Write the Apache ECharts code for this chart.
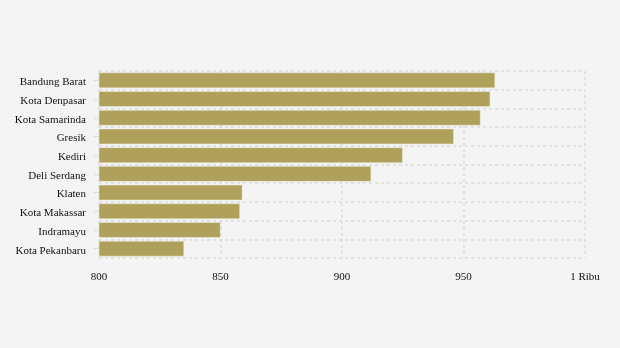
<!DOCTYPE html>
<html><head><meta charset="utf-8">
<script src="https://cdn.jsdelivr.net/npm/echarts@6/dist/echarts.min.js"></script>
<style>html,body{margin:0;padding:0;background:#f4f4f4;}#c{width:620px;height:348px;}</style>
</head><body><div id="c"></div>
<script>
const categories = ["Bandung Barat","Kota Denpasar","Kota Samarinda","Gresik","Kediri","Deli Serdang","Klaten","Kota Makassar","Indramayu","Kota Pekanbaru"];
const values = [963, 961, 957, 946, 925, 912, 859, 858, 850, 835];
const xTicks = {800:"800",850:"850",900:"900",950:"950",1000:"1 Ribu"};

const chart = echarts.init(document.getElementById('c'), null, {renderer:'canvas'});
chart.setOption({
  backgroundColor:'#f4f4f4',
  animation:false,
  grid:{left:99,right:35,top:71,bottom:90},
  xAxis:{
    type:'value', min:800, max:1000, interval:50,
    axisLine:{show:false}, axisTick:{show:false},
    axisLabel:{margin:14,color:'#111',fontFamily:'Liberation Serif',fontSize:11,
      formatter:v=>xTicks[v]!==undefined?xTicks[v]:String(v)},
    splitLine:{show:true,lineStyle:{color:'#dcdcdc',type:[3,3],width:1.5}}
  },
  yAxis:{
    type:'category', data:categories, inverse:true,
    axisLine:{show:false},
    axisTick:{show:true,alignWithLabel:true,length:5,lineStyle:{color:'#dcdcdc'}},
    axisLabel:{margin:13,color:'#111',fontFamily:'Liberation Serif',fontSize:11,verticalAlign:'top',lineHeight:4},
    splitLine:{show:true,lineStyle:{color:'#dcdcdc',type:[3,3],width:1.5}}
  },
  series:[{
    type:'bar', data:values, barCategoryGap:'17%',
    itemStyle:{color:'#afa15c',borderColor:'#f0ede0',borderWidth:0.5}
  }]
});
</script></body></html>
